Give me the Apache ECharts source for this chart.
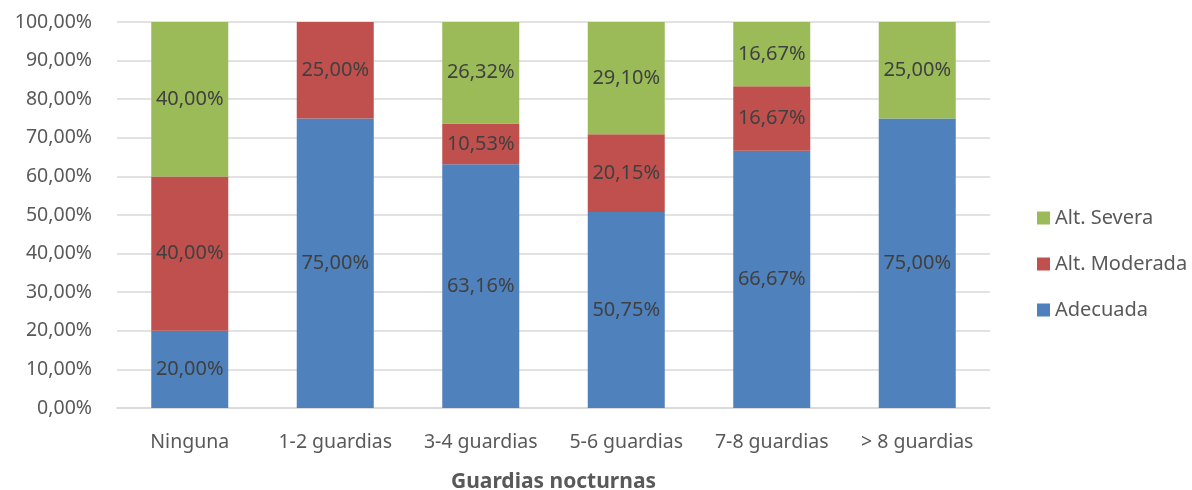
<!DOCTYPE html>
<html>
<head>
<meta charset="utf-8">
<script src="https://cdn.jsdelivr.net/npm/echarts@6/dist/echarts.min.js"></script>
<style>
    html, body { margin: 0; padding: 0; background: #fff; }
    #chart { width: 1192px; height: 490px; }
</style>
</head>
<body>
<div id="chart"></div>
<script>
    // categorias y valores (%)
    var categories = ['Ninguna', '1-2 guardias', '3-4 guardias', '5-6 guardias', '7-8 guardias', '> 8 guardias'];
    var adecuada = [20.00, 75.00, 63.16, 50.75, 66.67, 75.00];
    var moderada = [40.00, 25.00, 10.53, 20.15, 16.67, 0];
    var severa = [40.00, 0, 26.32, 29.10, 16.67, 25.00];

    var fontFam = '"Noto Sans", sans-serif';

    function pct(v) {
        return v.toFixed(2).replace('.', ',') + '%';
    }

    function makeSeries(name, data, color) {
        return {
            name: name,
            type: 'bar',
            stack: 'total',
            barWidth: 77,
            data: data,
            itemStyle: { color: color },
            label: {
                show: true,
                position: 'inside',
                color: '#404040',
                fontSize: 20,
                fontFamily: fontFam,
                formatter: function (p) { return p.value > 0 ? pct(p.value) : ''; }
            }
        };
    }

    var chart = echarts.init(document.getElementById('chart'));
    var option = {
        animation: false,
        grid: { left: 117, right: 202, top: 22, bottom: 82, containLabel: false, outerBoundsMode: 'none' },
        legend: {
            orient: 'vertical',
            left: 1032,
            top: 203,
            itemWidth: 13,
            itemHeight: 13,
            itemGap: 26,
            icon: 'rect',
            data: ['Alt. Severa', 'Alt. Moderada', 'Adecuada'],
            textStyle: { color: '#595959', fontSize: 20, fontFamily: fontFam }
        },
        xAxis: {
            type: 'category',
            data: categories,
            name: 'Guardias nocturnas',
            nameLocation: 'middle',
            nameGap: 64,
            nameTextStyle: { color: '#595959', fontSize: 21, fontWeight: 'bold', fontFamily: fontFam },
            axisTick: { show: false },
            axisLine: { lineStyle: { color: '#d9d9d9', width: 1.5 } },
            axisLabel: { color: '#595959', fontSize: 19.5, margin: 24, interval: 0, fontFamily: fontFam }
        },
        yAxis: {
            type: 'value',
            min: 0,
            max: 100,
            interval: 10,
            axisLine: { show: false },
            axisTick: { show: false },
            splitLine: { lineStyle: { color: '#d9d9d9', width: 1.5 } },
            axisLabel: {
                color: '#595959',
                fontSize: 19.5,
                margin: 25,
                fontFamily: fontFam,
                formatter: function (v) { return pct(v); }
            }
        },
        series: [
            makeSeries('Adecuada', adecuada, '#4f81bd'),
            makeSeries('Alt. Moderada', moderada, '#c0504d'),
            makeSeries('Alt. Severa', severa, '#9bbb59')
        ]
    };
    chart.setOption(option);
</script>
</body>
</html>
